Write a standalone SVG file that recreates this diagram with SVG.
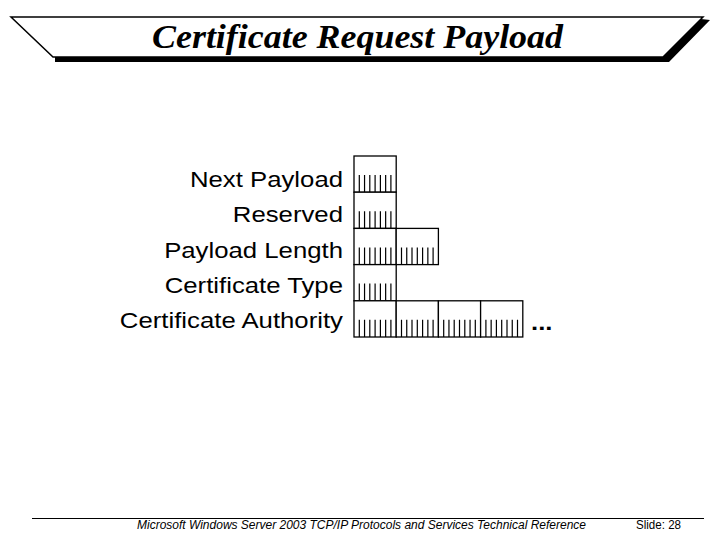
<svg xmlns="http://www.w3.org/2000/svg" xmlns:xlink="http://www.w3.org/1999/xlink" width="720" height="540" viewBox="0 0 720 540">
<style>
.lbl{font-family:"Liberation Sans",Arial,sans-serif;font-size:22px;fill:#000;text-anchor:end}
.title{font-family:"Liberation Serif","Times New Roman",serif;font-size:34px;font-weight:bold;font-style:italic;fill:#000}
.foot{font-family:"Liberation Sans",Arial,sans-serif;font-size:12px;font-style:italic;fill:#000}
.foot2{font-family:"Liberation Sans",Arial,sans-serif;font-size:12px;fill:#000}
.cell{fill:#fff;stroke:#000;stroke-width:1.3}
.tick{stroke:#000;stroke-width:1.2;fill:none}
</style>
<defs>
<g id="byte">
<rect class="cell" x="0" y="0" width="42.2" height="36.2"/>
<path class="tick" d="M5.3 19V36.2M10.55 19V36.2M15.8 19V36.2M21.1 19V36.2M26.4 19V36.2M31.65 19V36.2M36.9 19V36.2"/>
</g>
</defs>
<rect x="0" y="0" width="720" height="540" fill="#fff"/>
<g id="banner">
<polygon points="55,56 663,56 701,19 710,20 669,62 55,62" fill="#000"/>
<polygon points="11,17 703,17 663,57 53,57" fill="#fff" stroke="#000" stroke-width="1.5"/>
<text class="title" x="152" y="48" textLength="411" lengthAdjust="spacingAndGlyphs">Certificate Request Payload</text>
</g>
<g id="field-next-payload">
<text class="lbl" transform="translate(343,187) scale(1.17,1)">Next Payload</text>
<use xlink:href="#byte" x="354" y="156"/>
</g>
<g id="field-reserved">
<text class="lbl" transform="translate(343,222.3) scale(1.17,1)">Reserved</text>
<use xlink:href="#byte" x="354" y="192.2"/>
</g>
<g id="field-payload-length">
<text class="lbl" transform="translate(343,257.6) scale(1.17,1)">Payload Length</text>
<use xlink:href="#byte" x="354" y="228.4"/>
<use xlink:href="#byte" x="396.2" y="228.4"/>
</g>
<g id="field-certificate-type">
<text class="lbl" transform="translate(343,293) scale(1.17,1)">Certificate Type</text>
<use xlink:href="#byte" x="354" y="264.6"/>
</g>
<g id="field-certificate-authority">
<text class="lbl" transform="translate(343,328.3) scale(1.17,1)">Certificate Authority</text>
<use xlink:href="#byte" x="354" y="300.8"/>
<use xlink:href="#byte" x="396.2" y="300.8"/>
<use xlink:href="#byte" x="438.4" y="300.8"/>
<use xlink:href="#byte" x="480.6" y="300.8"/>
<text class="lbl" style="text-anchor:start;font-weight:bold" transform="translate(531,330) scale(1.17,1)">...</text>
</g>
<g id="footer">
<line x1="32" y1="518.5" x2="704" y2="518.5" stroke="#000" stroke-width="1"/>
<text class="foot" x="137" y="529" textLength="449" lengthAdjust="spacingAndGlyphs">Microsoft Windows Server 2003 TCP/IP Protocols and Services Technical Reference</text>
<text class="foot2" x="636" y="529" textLength="45" lengthAdjust="spacingAndGlyphs">Slide: 28</text>
</g>
</svg>
